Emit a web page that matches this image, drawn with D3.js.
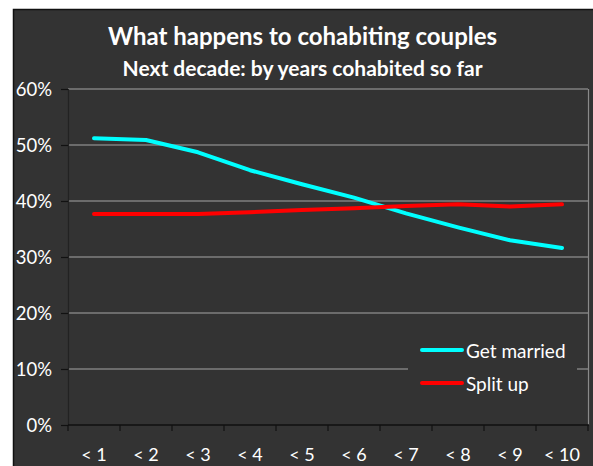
<!DOCTYPE html>
<html>
<head>
<meta charset="utf-8">
<script src="https://cdn.jsdelivr.net/npm/d3@7"></script>
<style>
  html, body { margin: 0; padding: 0; background: #ffffff; }
  svg { display: block; }
  text { font-family: Lato, "Open Sans", sans-serif; fill: #ffffff; }
</style>
</head>
<body>
<svg id="chart" width="593" height="466"></svg>
<script>
const categories = ["< 1", "< 2", "< 3", "< 4", "< 5", "< 6", "< 7", "< 8", "< 9", "< 10"];
const getMarried = [51.2, 50.9, 48.7, 45.5, 43.0, 40.6, 37.8, 35.3, 33.0, 31.6];
const splitUp    = [37.7, 37.7, 37.7, 38.0, 38.4, 38.7, 39.1, 39.4, 39.0, 39.4];
const yTicks = [0, 10, 20, 30, 40, 50, 60];
const seriesNames = ["Get married", "Split up"];
const seriesColors = ["#00ffff", "#ff0000"];
const titleText = "What happens to cohabiting couples";
const subtitleText = "Next decade: by years cohabited so far";

const svg = d3.select("#chart");
const W = 593, H = 466;
const plot = { left: 68, right: 588, top: 89, bottom: 425 };

// panel
svg.append("rect")
  .attr("x", 13.5).attr("y", 9.5)
  .attr("width", W).attr("height", H)
  .attr("fill", "#333333")
  .attr("stroke", "#111111").attr("stroke-width", 1.5);

const x = d3.scaleBand().domain(categories).range([plot.left, plot.right]).padding(0);
const y = d3.scaleLinear().domain([0, 60]).range([plot.bottom, plot.top]);

// gridlines
svg.append("g").selectAll("line")
  .data(yTicks.filter(t => t > 0))
  .join("line")
  .attr("x1", plot.left).attr("x2", plot.right)
  .attr("y1", d => y(d)).attr("y2", d => y(d))
  .attr("stroke", "#a6a6a6").attr("stroke-width", 1.2);

// right border of plot area
svg.append("line")
  .attr("x1", plot.right + 0.5).attr("x2", plot.right + 0.5)
  .attr("y1", plot.top).attr("y2", plot.bottom)
  .attr("stroke", "#8a8a8a").attr("stroke-width", 1.2);

// y axis
const yAxis = d3.axisLeft(y).tickValues(yTicks).tickSize(7).tickPadding(9)
  .tickFormat(d => d + "%");
const gy = svg.append("g").attr("transform", `translate(${plot.left},0)`).call(yAxis);
gy.select(".domain").attr("stroke", "#222222").attr("stroke-width", 1.2);
gy.selectAll(".tick line").attr("stroke", "#111111").attr("stroke-width", 1.2);
gy.selectAll(".tick text").attr("fill", "#ffffff").attr("font-size", 18.5)
  .attr("font-family", "Lato, 'Open Sans', sans-serif").attr("dy", "0.35em");

// x axis (ticks between categories)
const gx = svg.append("g").attr("transform", `translate(0,${plot.bottom})`);
gx.append("line").attr("x1", plot.left).attr("x2", plot.right + 1)
  .attr("stroke", "#111111").attr("stroke-width", 1.5);
const boundaries = categories.map(c => x(c)).concat([x(categories[categories.length - 1]) + x.bandwidth()]);
gx.selectAll("line.tk").data(boundaries).join("line").attr("class", "tk")
  .attr("x1", d => d).attr("x2", d => d).attr("y1", 0).attr("y2", 6)
  .attr("stroke", "#111111").attr("stroke-width", 1.2);
gx.selectAll("text").data(categories).join("text")
  .attr("x", d => x(d) + x.bandwidth() / 2)
  .attr("y", 36)
  .attr("text-anchor", "middle")
  .attr("font-size", 18)
  .text(d => d);

// lines
const line = d3.line()
  .x((d, i) => x(categories[i]) + x.bandwidth() / 2)
  .y(d => y(d));
[getMarried, splitUp].forEach((s, k) => {
  svg.append("path").datum(s)
    .attr("d", line)
    .attr("fill", "none")
    .attr("stroke", seriesColors[k])
    .attr("stroke-width", 4)
    .attr("stroke-linejoin", "round")
    .attr("stroke-linecap", "round");
});

// legend
const lg = svg.append("g");
lg.append("rect").attr("x", 408).attr("y", 333).attr("width", 169).attr("height", 67).attr("fill", "#333333");
seriesNames.forEach((n, i) => {
  const yy = 350 + i * 33;
  lg.append("line").attr("x1", 422).attr("x2", 462).attr("y1", yy).attr("y2", yy)
    .attr("stroke", seriesColors[i]).attr("stroke-width", 4).attr("stroke-linecap", "round");
  lg.append("text").attr("x", 466).attr("y", yy + 8).attr("font-size", 19).text(n);
});

// titles
svg.append("text").attr("x", 302.5).attr("y", 44.5).attr("text-anchor", "middle")
  .attr("font-size", 24).attr("font-weight", "bold").text(titleText);
svg.append("text").attr("x", 302.5).attr("y", 75.5).attr("text-anchor", "middle")
  .attr("font-size", 21).attr("font-weight", "bold").text(subtitleText);
</script>
</body>
</html>
